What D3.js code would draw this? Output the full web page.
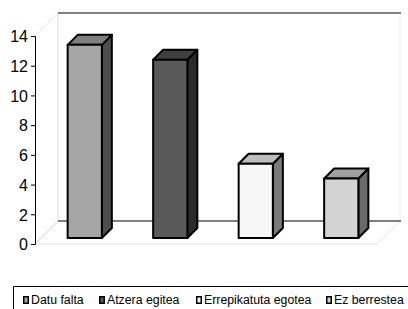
<!DOCTYPE html>
<html><head><meta charset="utf-8">
<script src="https://cdn.jsdelivr.net/npm/d3@7"></script>
<style>body{margin:0;background:#fff}svg{display:block}</style>
</head><body>
<script>
const categories = ["Datu falta","Atzera egitea","Errepikatuta egotea","Ez berrestea"];
const values = [13,12,5,4];
const yTicks = [0,2,4,6,8,10,12,14];
const frontColors = ["#a6a6a6","#595959","#f6f6f6","#d3d3d3"];
const topColors = ["#7f7f7f","#404040","#bdbdbd","#a0a0a0"];
const sideColors = ["#4d4d4d","#2b2b2b","#7a7a7a","#6a6a6a"];

const W=408,H=309;
const svg=d3.select("body").append("svg").attr("width",W).attr("height",H)
  .style("font-family","Liberation Sans, Arial, sans-serif");
const D=23; // wall depth
const x0=35, x1=377;
const y=d3.scaleLinear().domain([0,14]).range([244,36]);
const x=d3.scaleBand().domain(categories).range([x0+1,x1+1]).paddingInner(0.6).paddingOuter(0.3);

// walls
svg.append("line").attr("x1",x0+D).attr("x2",x0+D).attr("y1",y(14)-D).attr("y2",y(0)-D).attr("stroke","#dcdcdc");
svg.append("line").attr("x1",x1+D).attr("x2",x1+D).attr("y1",y(14)-D).attr("y2",y(0)-D).attr("stroke","#eeeeee");
svg.append("line").attr("x1",x0).attr("x2",x0+D).attr("y1",y(0)).attr("y2",y(0)-D).attr("stroke","#d0d0d0");
svg.append("line").attr("x1",x1).attr("x2",x1+D).attr("y1",y(0)).attr("y2",y(0)-D).attr("stroke","#e6e6e6");
svg.append("line").attr("x1",x0).attr("x2",x1).attr("y1",y(0)).attr("y2",y(0)).attr("stroke","#e6e6e6");
svg.append("line").attr("x1",x0).attr("x2",x0+D).attr("y1",y(14)).attr("y2",y(14)-D).attr("stroke","#e6e6e6");
// back top and back floor lines (black)
svg.append("line").attr("x1",x0+D).attr("x2",x1+D+1).attr("y1",y(14)-D).attr("y2",y(14)-D).attr("stroke","#000").attr("stroke-width",1.2);
svg.append("line").attr("x1",x0+D).attr("x2",x1+D+1).attr("y1",y(0)-D).attr("y2",y(0)-D).attr("stroke","#000").attr("stroke-width",1.2);

// y axis
const ax=svg.append("g").attr("transform",`translate(${x0},0)`)
  .call(d3.axisLeft(y).tickValues(yTicks).tickSize(4).tickPadding(3).tickFormat(d3.format("d")));
ax.select(".domain").attr("stroke","#000");
ax.selectAll(".tick line").attr("stroke","#000");
ax.selectAll("text").attr("font-size",16).attr("fill","#000").attr("font-family","Liberation Sans, Arial, sans-serif").attr("dy","0.36em");

// bars
const z=6, bd=10;
const g=svg.append("g").attr("stroke","#000").attr("stroke-width",2).attr("stroke-linejoin","round");
categories.forEach((c,i)=>{
  const xl=x(c)+z, xr=x(c)+x.bandwidth()+z;
  const yt=y(values[i])-z, yb=y(0)-z;
  g.append("path").attr("fill",sideColors[i])
    .attr("d",`M${xr},${yb}L${xr+bd},${yb-bd}L${xr+bd},${yt-bd}L${xr},${yt}Z`);
  g.append("path").attr("fill",topColors[i])
    .attr("d",`M${xl},${yt}L${xl+bd},${yt-bd}L${xr+bd},${yt-bd}L${xr},${yt}Z`);
  g.append("rect").attr("fill",frontColors[i]).attr("x",xl).attr("y",yt).attr("width",xr-xl).attr("height",yb-yt);
});

// legend
svg.append("path").attr("d","M409,286.5H13.5V310").attr("fill","none").attr("stroke","#000");
const legX=[23,99,196,326];
const lg=svg.append("g");
categories.forEach((c,i)=>{
  lg.append("rect").attr("x",legX[i]+0.75).attr("y",296.75).attr("width",4.5).attr("height",6.5)
    .attr("fill",frontColors[i]).attr("stroke","#000").attr("stroke-width",1.5);
  lg.append("text").attr("x",legX[i]+8).attr("y",304).attr("font-size",12.3).attr("fill","#000").text(c);
});
</script>
</body></html>
